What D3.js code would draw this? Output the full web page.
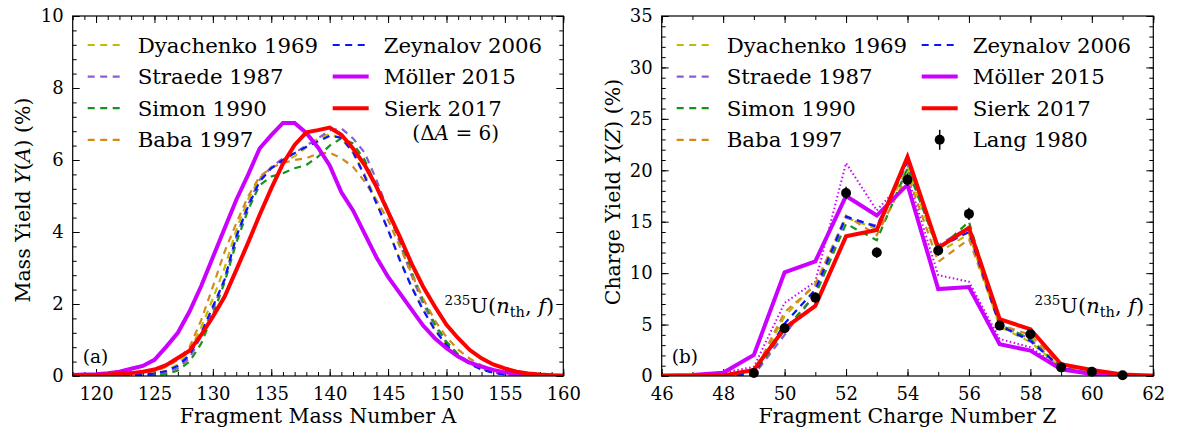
<!DOCTYPE html>
<html>
<head>
<meta charset="utf-8">
<script src="https://cdn.jsdelivr.net/npm/d3@7"></script>
<style>
  body { margin: 0; background: #fff; }
  svg text { font-family: "DejaVu Serif", "Liberation Serif", serif; fill: #000; }
</style>
</head>
<body>
<svg width="1177" height="432" font-family="DejaVu Serif"></svg>
<script>
// ---- panel (a): mass yields, A = 118..160
const massA = [118,119,120,121,122,123,124,125,126,127,128,129,130,131,132,133,134,135,136,137,138,139,
  140,141,142,143,144,145,146,147,148,149,150,151,152,153,154,155,156,157,158,159,160];
const massDyachenko = [0,0,0,0,0,0.01,0.03,0.06,0.14,0.32,0.7,1.35,2.15,3.0,4.05,4.9,5.5,5.8,5.95,6.1,6.35,6.6,
  6.72,6.6,6.2,5.6,4.85,4.05,3.25,2.5,1.85,1.3,0.88,0.57,0.35,0.2,0.1,0.05,0.02,0.01,0,0,0];
const massStraede = [0,0,0,0,0,0.01,0.02,0.04,0.1,0.22,0.5,1.1,1.85,2.7,3.85,4.75,5.45,5.8,6.05,6.2,6.4,6.6,
  6.82,6.88,6.6,6.2,5.45,4.6,3.7,2.8,2.0,1.4,0.92,0.58,0.35,0.2,0.1,0.05,0.02,0.01,0,0,0];
const massSimon = [0,0,0,0,0,0,0.01,0.02,0.05,0.15,0.4,0.9,1.7,2.6,3.7,4.6,5.3,5.54,5.63,5.77,5.86,6.09,
  6.4,6.6,6.46,6.0,5.26,4.52,3.78,2.9,2.1,1.45,0.95,0.6,0.36,0.2,0.1,0.05,0.02,0.01,0,0,0];
const massBaba = [0,0,0,0,0.02,0.04,0.07,0.13,0.25,0.45,0.8,1.55,2.48,3.45,4.24,4.98,5.54,5.78,5.92,6.0,6.05,6.18,
  6.2,6.05,5.81,5.4,4.89,4.33,3.6,2.85,2.15,1.55,1.08,0.73,0.48,0.3,0.17,0.09,0.04,0.02,0.01,0,0];
const massZeynalov = [0,0,0,0,0.01,0.02,0.04,0.07,0.14,0.28,0.58,1.19,1.93,2.67,3.87,4.7,5.4,5.77,6.0,6.19,6.37,6.52,
  6.67,6.62,6.22,5.54,4.8,4.06,3.22,2.48,1.83,1.28,0.86,0.54,0.33,0.18,0.09,0.04,0.02,0.01,0,0,0];
const massMoller = [0.03,0.04,0.05,0.08,0.12,0.2,0.28,0.45,0.81,1.2,1.79,2.5,3.3,4.1,4.89,5.58,6.32,6.69,7.03,7.03,6.75,6.35,
  5.85,5.1,4.6,3.95,3.3,2.75,2.3,1.85,1.4,1.05,0.77,0.54,0.37,0.26,0.17,0.1,0.06,0.04,0.02,0.01,0.01];
const massSierk = [0.02,0.02,0.03,0.04,0.06,0.08,0.12,0.18,0.3,0.5,0.7,1.14,1.65,2.2,2.94,3.69,4.47,5.21,5.9,6.42,6.77,6.83,
  6.9,6.7,6.32,5.86,5.26,4.56,3.87,3.13,2.48,1.93,1.42,1.05,0.72,0.49,0.32,0.21,0.12,0.07,0.04,0.02,0.01];

// ---- panel (b): charge yields, Z = 46..62
const chargeZ = [46,47,48,49,50,51,52,53,54,55,56,57,58,59,60,61,62];
const chargeDyachenko = [0,0,0.05,0.3,5.8,9.0,15.4,14.3,20.2,12.0,13.8,4.8,3.3,0.8,0.2,0.05,0];
const chargeStraede = [0,0,0.02,0.1,4.0,8.0,15.4,14.6,20.7,12.7,14.5,5.0,3.6,0.7,0.2,0.05,0];
const chargeSimon = [0,0,0.03,0.2,4.5,7.9,14.8,13.2,20.2,12.3,15.0,5.0,3.6,0.8,0.25,0.05,0];
const chargeBaba = [0,0,0.05,0.3,6.2,8.8,15.6,13.7,19.6,11.1,13.3,5.0,4.0,0.9,0.3,0.05,0];
const chargeZeynalov = [0,0,0.05,0.2,5.1,8.4,15.5,14.5,20.9,12.5,14.0,4.9,3.4,0.8,0.2,0.05,0];
const chargeMoller = [0.05,0.1,0.32,2.05,10.07,11.15,17.5,15.6,18.6,8.45,8.65,3.09,2.47,0.65,0.2,0.05,0.02];
const chargeMollerDotted = [0.05,0.1,0.3,0.9,7.1,9.17,20.7,16.1,19.4,9.8,9.17,3.6,2.8,0.75,0.25,0.05,0.02];
const chargeSierk = [0,0,0.05,0.58,4.65,6.82,13.58,14.2,21.3,12.45,14.4,5.52,4.55,1.14,0.58,0.15,0.03];
const langZ = [49,50,51,52,53,54,55,56,57,58,59,60,61];
const langY = [0.3,4.65,7.62,17.8,12.0,19.07,12.2,15.76,4.9,4.06,0.84,0.42,0.07];
const langErr = [0.3,0.4,0.5,0.6,0.5,0.6,0.5,0.6,0.4,0.4,0.4,0.3,0.3];

const legendNames = ["Dyachenko 1969","Straede 1987","Simon 1990","Baba 1997","Zeynalov 2006","Möller 2015","Sierk 2017"];
const legendColors = ["#bfbb00","#8a5cd8","#14951a","#d4891f","#0a14ff","#cc00ff","#ff0000"];

const FONT = "DejaVu Serif";
const svg = d3.select("svg");
svg.append("rect").attr("width", 1177).attr("height", 432).attr("fill", "#fff");

function styleFor(i) {
  if (i < 5) return { width: 2.2, dash: "7,5.5" };
  return { width: 4, dash: null };
}

function label(sel, size) {
  return sel.style("font-family", FONT).style("font-size", size + "px");
}

function drawPanel(o) {
  const x = d3.scaleLinear().domain(o.xDomain).range([o.x0, o.x1]);
  const y = d3.scaleLinear().domain(o.yDomain).range([o.y1, o.y0]);
  const g = svg.append("g");

  g.append("clipPath").attr("id", "clip-" + o.id)
    .append("rect").attr("x", o.x0).attr("y", o.y0 - 2)
    .attr("width", o.x1 - o.x0).attr("height", o.y1 - o.y0 + 2);

  // ticks on all four sides, pointing in
  const axes = [
    [d3.axisBottom(x).tickValues(o.xMinor), "translate(0," + o.y1 + ")", -4, false],
    [d3.axisBottom(x).tickValues(o.xTicks), "translate(0," + o.y1 + ")", -7, true],
    [d3.axisTop(x).tickValues(o.xMinor), "translate(0," + o.y0 + ")", -4, false],
    [d3.axisTop(x).tickValues(o.xTicks), "translate(0," + o.y0 + ")", -7, false],
    [d3.axisLeft(y).tickValues(o.yMinor), "translate(" + o.x0 + ",0)", -4, false],
    [d3.axisLeft(y).tickValues(o.yTicks), "translate(" + o.x0 + ",0)", -7, true],
    [d3.axisRight(y).tickValues(o.yMinor), "translate(" + o.x1 + ",0)", -4, false],
    [d3.axisRight(y).tickValues(o.yTicks), "translate(" + o.x1 + ",0)", -7, false]
  ];
  axes.forEach(function (a, k) {
    const ax = a[0].tickSizeInner(a[2]).tickSizeOuter(0).tickPadding(k === 1 ? 11 : 9);
    if (!a[3]) ax.tickFormat("");
    const sel = g.append("g").attr("transform", a[1]).call(ax);
    sel.attr("font-family", FONT);
    sel.select(".domain").remove();
    sel.selectAll("line").attr("stroke", "#000").attr("stroke-width", 1);
    label(sel.selectAll("text"), 18).attr("fill", "#000");
  });

  const plot = g.append("g").attr("clip-path", "url(#clip-" + o.id + ")");
  const line = d3.line().x(function (d) { return x(d[0]); }).y(function (d) { return y(d[1]); });

  if (o.dotted) {
    plot.append("path")
      .datum(o.xs.map(function (v, k) { return [v, o.dotted[k]]; }))
      .attr("d", line)
      .attr("fill", "none")
      .attr("stroke", legendColors[5])
      .attr("stroke-width", 2)
      .attr("stroke-dasharray", "1.5,2.5");
  }

  o.series.forEach(function (s, i) {
    const st = styleFor(i);
    plot.append("path")
      .datum(o.xs.map(function (v, k) { return [v, s[k]]; }))
      .attr("d", line)
      .attr("fill", "none")
      .attr("stroke", legendColors[i])
      .attr("stroke-width", st.width)
      .attr("stroke-dasharray", st.dash)
      .attr("stroke-linejoin", "miter");
  });

  if (o.points) {
    const pts = g.append("g");
    o.points.x.forEach(function (v, k) {
      pts.append("line")
        .attr("x1", x(v)).attr("x2", x(v))
        .attr("y1", y(o.points.y[k] + o.points.e[k]))
        .attr("y2", y(Math.max(0, o.points.y[k] - o.points.e[k])))
        .attr("stroke", "#000").attr("stroke-width", 1.5);
      pts.append("circle")
        .attr("cx", x(v)).attr("cy", y(o.points.y[k]))
        .attr("r", 5).attr("fill", "#000");
    });
  }

  g.append("rect")
    .attr("x", o.x0).attr("y", o.y0)
    .attr("width", o.x1 - o.x0).attr("height", o.y1 - o.y0)
    .attr("fill", "none").attr("stroke", "#000").attr("stroke-width", 1.2);

  // legend
  const leg = g.append("g");
  legendNames.forEach(function (name, i) {
    const col = i < 4 ? 0 : 1;
    const row = i < 4 ? i : i - 4;
    const lx = o.x0 + 14 + col * 246;
    const ly = 45 + row * 31.6;
    const st = styleFor(i);
    leg.append("line")
      .attr("x1", lx + (col ? 0 : 1)).attr("x2", lx + 36).attr("y1", ly).attr("y2", ly)
      .attr("stroke", legendColors[i]).attr("stroke-width", st.width)
      .attr("stroke-dasharray", st.dash);
    label(leg.append("text"), 21.3).attr("x", lx + 51).attr("y", ly + 7.5).text(name);
  });
  if (o.points) {
    const lx = o.x0 + 14 + 246 + 18, ly = 45 + 3 * 31.6;
    leg.append("line").attr("x1", lx).attr("x2", lx).attr("y1", ly - 10).attr("y2", ly + 10)
      .attr("stroke", "#000").attr("stroke-width", 1.5);
    leg.append("circle").attr("cx", lx).attr("cy", ly).attr("r", 5).attr("fill", "#000");
    label(leg.append("text"), 21.3).attr("x", o.x0 + 14 + 246 + 51).attr("y", ly + 7.5).text("Lang 1980");
  } else {
    const t = label(leg.append("text"), 20).attr("x", o.x0 + 383).attr("y", 140)
      .attr("text-anchor", "middle");
    t.append("tspan").text("(Δ");
    t.append("tspan").style("font-style", "italic").text("A");
    t.append("tspan").text(" = 6)");
  }

  // panel tag and reaction label
  label(g.append("text"), 18.5).attr("x", o.x0 + 10).attr("y", 363).text(o.tag);
  const r = label(g.append("text"), 21).attr("x", o.x1 - 9).attr("y", 313)
    .attr("text-anchor", "end");
  r.append("tspan").attr("dy", -8).style("font-size", "13.5px").text("235");
  r.append("tspan").attr("dy", 8).text("U(");
  r.append("tspan").style("font-style", "italic").text("n");
  r.append("tspan").attr("dy", 4).style("font-size", "14.5px").text("th");
  r.append("tspan").attr("dy", -4).text(", ");
  r.append("tspan").style("font-style", "italic").text("f");
  r.append("tspan").text(")");

  // axis labels
  label(g.append("text"), 20.5).attr("x", (o.x0 + o.x1) / 2).attr("y", 423)
    .attr("text-anchor", "middle").text(o.xLabel);
  const yl = label(g.append("text"), 20.5)
    .attr("transform", "translate(" + o.yLabelX + "," + o.yLabelY + ") rotate(-90)")
    .attr("text-anchor", "middle");
  yl.append("tspan").text(o.yLabel[0]);
  yl.append("tspan").style("font-style", "italic").text("Y");
  yl.append("tspan").text("(");
  yl.append("tspan").style("font-style", "italic").text(o.yLabel[1]);
  yl.append("tspan").text(") (%)");
}

drawPanel({
  id: "a", tag: "(a)",
  x0: 72.7, x1: 563.3, y0: 16, y1: 376,
  xDomain: [118, 160], yDomain: [0, 10],
  xTicks: [120,125,130,135,140,145,150,155,160],
  xMinor: massA,
  yTicks: [0,2,4,6,8,10],
  yMinor: [0.4,0.8,1.2,1.6,2.4,2.8,3.2,3.6,4.4,4.8,5.2,5.6,6.4,6.8,7.2,7.6,8.4,8.8,9.2,9.6],
  xs: massA,
  series: [massDyachenko, massStraede, massSimon, massBaba, massZeynalov, massMoller, massSierk],
  xLabel: "Fragment Mass Number A",
  yLabel: ["Mass Yield ", "A"], yLabelX: 30, yLabelY: 200
});

drawPanel({
  id: "b", tag: "(b)",
  x0: 661.7, x1: 1153.3, y0: 16, y1: 376,
  xDomain: [46, 62], yDomain: [0, 35],
  xTicks: [46,48,50,52,54,56,58,60,62],
  xMinor: chargeZ,
  yTicks: [0,5,10,15,20,25,30,35],
  yMinor: d3.range(0, 36),
  xs: chargeZ,
  series: [chargeDyachenko, chargeStraede, chargeSimon, chargeBaba, chargeZeynalov, chargeMoller, chargeSierk],
  dotted: chargeMollerDotted,
  points: { x: langZ, y: langY, e: langErr },
  xLabel: "Fragment Charge Number Z",
  yLabel: ["Charge Yield ", "Z"], yLabelX: 620, yLabelY: 192
});
</script>
</body>
</html>
